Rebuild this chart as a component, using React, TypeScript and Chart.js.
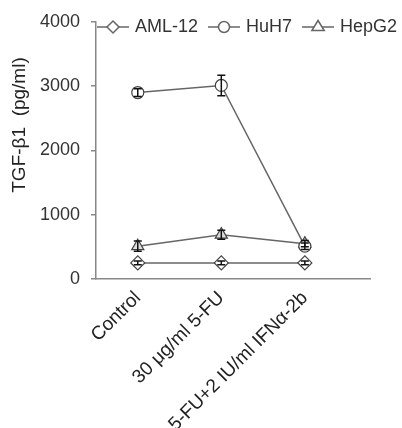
import React, { useEffect, useRef } from "react";
import { Chart, registerables } from "chart.js";

Chart.register(...registerables);

const categories = ["Control", "30 μg/ml 5-FU", "5-FU+2 IU/ml IFNα-2b"];
const seriesNames = ["AML-12", "HuH7", "HepG2"];
const aml12 = [250, 250, 250];
const aml12Err = [30, 30, 30];
const huh7 = [2900, 3010, 510];
const huh7Err = [60, 160, 50];
const hepg2 = [510, 690, 550];
const hepg2Err = [80, 70, 50];
const yTicks = [0, 1000, 2000, 3000, 4000];

const FONT = "'Liberation Sans', Arial, sans-serif";
const LINE = "#666";

const errorBarPlugin = {
  id: "errorBars",
  afterDatasetsDraw(chart: any) {
    const ctx = chart.ctx;
    const xs = chart.scales.x;
    const ys = chart.scales.y;
    ctx.save();
    ctx.strokeStyle = "#111";
    ctx.lineWidth = 1.5;
    chart.data.datasets.forEach((ds: any) => {
      ds.data.forEach((p: any, i: number) => {
        const e = ds.errors[i];
        const x = xs.getPixelForValue(p.x);
        const y1 = ys.getPixelForValue(p.y + e);
        const y2 = ys.getPixelForValue(p.y - e);
        ctx.beginPath();
        ctx.moveTo(x, y1);
        ctx.lineTo(x, y2);
        ctx.moveTo(x - 4, y1);
        ctx.lineTo(x + 4, y1);
        ctx.moveTo(x - 4, y2);
        ctx.lineTo(x + 4, y2);
        ctx.stroke();
      });
    });
    ctx.restore();
  },
};

function drawMarker(ctx: any, style: string, x: number, y: number, r: number, fill: string) {
  ctx.beginPath();
  if (style === "rectRot") {
    ctx.moveTo(x, y - r);
    ctx.lineTo(x + r, y);
    ctx.lineTo(x, y + r);
    ctx.lineTo(x - r, y);
    ctx.closePath();
  } else if (style === "circle") {
    ctx.arc(x, y, r, 0, Math.PI * 2);
  } else {
    ctx.moveTo(x, y - r);
    ctx.lineTo(x + r * 0.95, y + r * 0.55);
    ctx.lineTo(x - r * 0.95, y + r * 0.55);
    ctx.closePath();
  }
  ctx.fillStyle = fill;
  ctx.fill();
  ctx.stroke();
}

const legendPlugin = {
  id: "customLegend",
  afterDraw(chart: any) {
    const ctx = chart.ctx;
    const area = chart.chartArea;
    ctx.save();
    ctx.font = `18px ${FONT}`;
    ctx.textBaseline = "middle";
    ctx.textAlign = "left";
    let x = area.left + 1;
    const y = 27;
    chart.data.datasets.forEach((ds: any) => {
      ctx.strokeStyle = LINE;
      ctx.lineWidth = 1.5;
      ctx.beginPath();
      ctx.moveTo(x, y);
      ctx.lineTo(x + 32, y);
      ctx.stroke();
      drawMarker(ctx, ds.pointStyle, x + 16, y, ds.legendR, "#fff");
      x += 38;
      ctx.fillStyle = "#333";
      ctx.fillText(ds.label, x, y);
      x += ctx.measureText(ds.label).width + 10;
    });
    ctx.restore();
  },
};

const yTitlePlugin = {
  id: "yTitle",
  afterDraw(chart: any) {
    const ctx = chart.ctx;
    ctx.save();
    ctx.translate(20, 125);
    ctx.rotate(-Math.PI / 2);
    ctx.font = `19px ${FONT}`;
    ctx.fillStyle = "#222";
    ctx.textAlign = "center";
    ctx.textBaseline = "middle";
    ctx.fillText("TGF-β1  (pg/ml)", 0, 0);
    ctx.restore();
  },
};

export default function App() {
  const ref = useRef<HTMLCanvasElement>(null);
  useEffect(() => {
    document.body.style.margin = "0";
    const mk = (arr: number[]) => arr.map((v, i) => ({ x: i + 1, y: v }));
    const chart = new Chart(ref.current as HTMLCanvasElement, {
      type: "line",
      data: {
        datasets: [
          {
            label: seriesNames[0],
            data: mk(aml12),
            errors: aml12Err,
            pointStyle: "rectRot",
            pointRadius: 7,
            legendR: 6,
            borderColor: LINE,
            pointBorderColor: "#444",
            pointBackgroundColor: "#fff",
            borderWidth: 1.5,
            pointBorderWidth: 1.2,
          } as any,
          {
            label: seriesNames[1],
            data: mk(huh7),
            errors: huh7Err,
            pointStyle: "circle",
            pointRadius: 6,
            legendR: 5.5,
            borderColor: LINE,
            pointBorderColor: "#444",
            pointBackgroundColor: "#fff",
            borderWidth: 1.5,
            pointBorderWidth: 1.2,
          } as any,
          {
            label: seriesNames[2],
            data: mk(hepg2),
            errors: hepg2Err,
            pointStyle: "triangle",
            pointRadius: 7,
            legendR: 6.5,
            borderColor: LINE,
            pointBorderColor: "#444",
            pointBackgroundColor: "#ddd",
            borderWidth: 1.5,
            pointBorderWidth: 1.2,
          } as any,
        ],
      },
      options: {
        responsive: false,
        animation: false,
        layout: { padding: { top: 19, right: 32, left: 0, bottom: 0 } },
        plugins: { legend: { display: false }, tooltip: { enabled: false } },
        scales: {
          x: {
            type: "linear",
            min: 0.5,
            max: 3.78,
            afterBuildTicks: (s: any) => {
              s.ticks = categories.map((_, i) => ({ value: i + 1 }));
            },
            afterFit: (s: any) => {
              s.height = 149;
            },
            grid: { display: false },
            border: { display: true, color: "#888", width: 1.5 },
            ticks: {
              autoSkip: false,
              minRotation: 45,
              maxRotation: 45,
              padding: 0,
              color: "#222",
              font: { family: FONT, size: 19 },
              callback: (v: any) => categories[Math.round(v) - 1] ?? "",
            },
          },
          y: {
            type: "linear",
            min: 0,
            max: 4000,
            afterBuildTicks: (s: any) => {
              s.ticks = yTicks.map((v) => ({ value: v }));
            },
            afterFit: (s: any) => {
              s.width = 96;
            },
            grid: { drawOnChartArea: false, drawTicks: true, tickLength: 5, color: "#888", lineWidth: 1.5 },
            border: { display: true, color: "#888", width: 1.5 },
            ticks: {
              padding: 11,
              color: "#333",
              font: { family: FONT, size: 18 },
              callback: (v: any) => String(v),
            },
          },
        },
      } as any,
      plugins: [errorBarPlugin, legendPlugin, yTitlePlugin],
    });
    return () => chart.destroy();
  }, []);
  return <canvas ref={ref} width={402} height={428} style={{ display: "block" }} />;
}
